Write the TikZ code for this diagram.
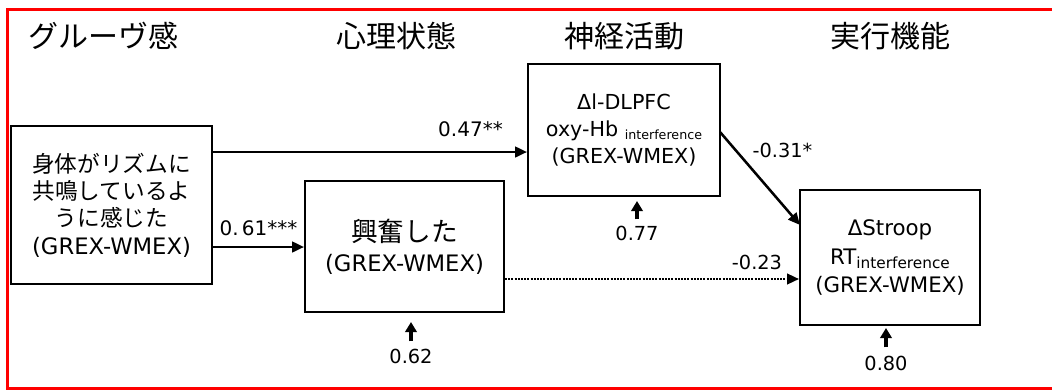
\documentclass[tikz,border=0pt]{standalone}
\usepackage{fontspec}
\setmainfont{DejaVu Sans}
\newfontfamily\jp{Noto Sans CJK JP}
\usetikzlibrary{arrows.meta}
\begin{document}
\begin{tikzpicture}[x=0.75pt,y=-0.75pt,
  box/.style={draw,line width=1.5pt,inner sep=0pt,align=center},
  arr/.style={line width=1.9pt,-{Triangle[length=9pt,width=8pt]}},
  sarr/.style={line width=2.3pt,-{Triangle[length=7.5pt,width=8.5pt]}},
  lab/.style={inner sep=0pt,font=\fontsize{14.5}{17}\selectfont},
  hdr/.style={inner sep=0pt,font=\fontsize{22.5}{26}\selectfont\jp}]
\useasboundingbox (0,0) rectangle (1052,390);
\begin{scope}
\clip (0,0) rectangle (1052,390);
\draw[red,line width=1.6pt] (1070,9.5) -- (7.5,9.5) -- (7.5,388.5) -- (1070,388.5);
\end{scope}
% headers
\node[hdr] (h1) at (103,36) {グルーヴ感};
\node[hdr] (h2) at (396,36) {心理状態};
\node[hdr] (h3) at (624,36) {神経活動};
\node[hdr] (h4) at (890,36) {実行機能};
% boxes
\node[box,minimum width=150.75pt,minimum height=118.5pt,font=\fontsize{17}{20.5}\selectfont] (A) at (111.5,205)
  {{\jp 身体がリズムに}\\{\jp 共鳴しているよ}\\{\jp うに感じた}\\(GREX-WMEX)};
\node[box,minimum width=149.25pt,minimum height=98.25pt,font=\fontsize{17}{22.5}\selectfont] (B) at (404.5,246.5)
  {{\fontsize{20}{22.5}\selectfont\jp 興奮した}\\(GREX-WMEX)};
\node[box,minimum width=144pt,minimum height=99pt,font=\fontsize{15.5}{20}\selectfont] (C) at (624,130)
  {Δl-DLPFC\\oxy-Hb {\fontsize{9.5}{11}\selectfont\raisebox{-2.2pt}{interference}}\\(GREX-WMEX)};
\node[box,minimum width=135pt,minimum height=101.25pt,font=\fontsize{16}{21.4}\selectfont] (D) at (890,257.5)
  {ΔStroop\\RT{\fontsize{11.5}{13}\selectfont\raisebox{-3pt}{interference}}\\(GREX-WMEX)};
% connector heights
\coordinate (yAC) at (0,152);
\coordinate (yAB) at (0,247);
\coordinate (yBD) at (0,279);
\coordinate (cC) at (720,132);
\coordinate (cD) at (800,225);
\draw[arr] (A.east |- yAC) -- (C.west |- yAC);
\draw[arr] (A.east |- yAB) -- (B.west |- yAB);
\draw[arr,line width=1.7pt,dash pattern=on 1.5pt off 0.9pt] (B.east |- yBD) -- (D.west |- yBD);
\draw[arr] (cC) -- (cD);
% path labels
\node[lab,font=\fontsize{15}{17}\selectfont] (l1) at (470.5,129) {0.47**};
\node[lab,font=\fontsize{15}{17}\selectfont] (l2) at (258.5,228) {0.\,61***};
\node[lab] (l3) at (782.5,150) {-0.31*};
\node[lab] (l4) at (757,262) {-0.23};
% residual labels
\node[lab] (e1) at (411,356) {0.62};
\node[lab] (e2) at (637,233) {0.77};
\node[lab] (e3) at (886,363) {0.80};
\draw[sarr,shorten <=5.25pt,shorten >=6.75pt] (e1.north) -- (e1.north |- B.south);
\draw[sarr,shorten <=4.5pt,shorten >=3pt] (e2.north) -- (e2.north |- C.south);
\draw[sarr,shorten <=6pt,shorten >=1.5pt] (e3.north) -- (e3.north |- D.south);
\end{tikzpicture}
\end{document}
